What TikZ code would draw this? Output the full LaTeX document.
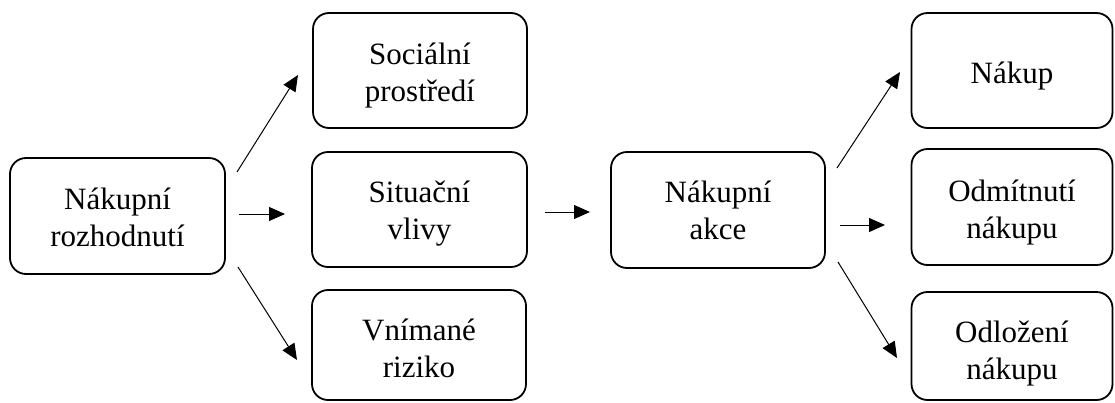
\documentclass[tikz,border=0pt]{standalone}
\usepackage{fontspec}
\setmainfont{Liberation Serif}
\usetikzlibrary{arrows.meta}
\begin{document}
\begin{tikzpicture}[x=1pt,y=-1pt,
  box/.style={draw, line width=1.8pt, rounded corners=16pt, inner sep=0pt, align=center,
    font=\fontsize{31}{37}\selectfont, text depth=0pt},
  conn/.style={line width=1pt, -{Triangle[length=16pt,width=14pt]}}]
\useasboundingbox (0,0) rectangle (1115,402);
\node[box, minimum width=215pt, minimum height=116pt, text height=60pt] (A) at (117.5,216) {Nákupní\\rozhodnutí};
\node[box, minimum width=214pt, minimum height=115pt, text height=61pt] (B) at (420,70.5) {Sociální\\prostředí};
\node[box, minimum width=215pt, minimum height=115pt, text height=59pt] (C) at (419.5,209.5) {Situační\\vlivy};
\node[box, minimum width=214pt, minimum height=110pt, text height=64pt] (D) at (419,345) {Vnímané\\riziko};
\node[box, minimum width=214pt, minimum height=116pt, text height=58pt] (E) at (718,210) {Nákupní\\akce};
\node[box, minimum width=201pt, minimum height=115pt, text height=25pt] (F) at (1012,70.5) {Nákup};
\node[box, minimum width=201pt, minimum height=116pt, text height=62pt] (G) at (1012,207) {Odmítnutí\\nákupu};
\node[box, minimum width=201pt, minimum height=108pt, text height=66pt] (H) at (1012,346) {Odložení\\nákupu};
\coordinate (ab1) at (237,172); \coordinate (ab2) at (298,75);
\coordinate (ac1) at (239,214); \coordinate (ac2) at (285,214);
\coordinate (ad1) at (238,267); \coordinate (ad2) at (297,360);
\coordinate (ce1) at (545,212); \coordinate (ce2) at (590,212);
\coordinate (ef1) at (837,168); \coordinate (ef2) at (900,72);
\coordinate (eg1) at (840,225); \coordinate (eg2) at (885,225);
\coordinate (eh1) at (838,262); \coordinate (eh2) at (897,358);
\draw[conn] (ab1) -- (ab2);
\draw[conn] (ac1) -- (ac2);
\draw[conn] (ad1) -- (ad2);
\draw[conn] (ce1) -- (ce2);
\draw[conn] (ef1) -- (ef2);
\draw[conn] (eg1) -- (eg2);
\draw[conn] (eh1) -- (eh2);
\end{tikzpicture}
\end{document}
